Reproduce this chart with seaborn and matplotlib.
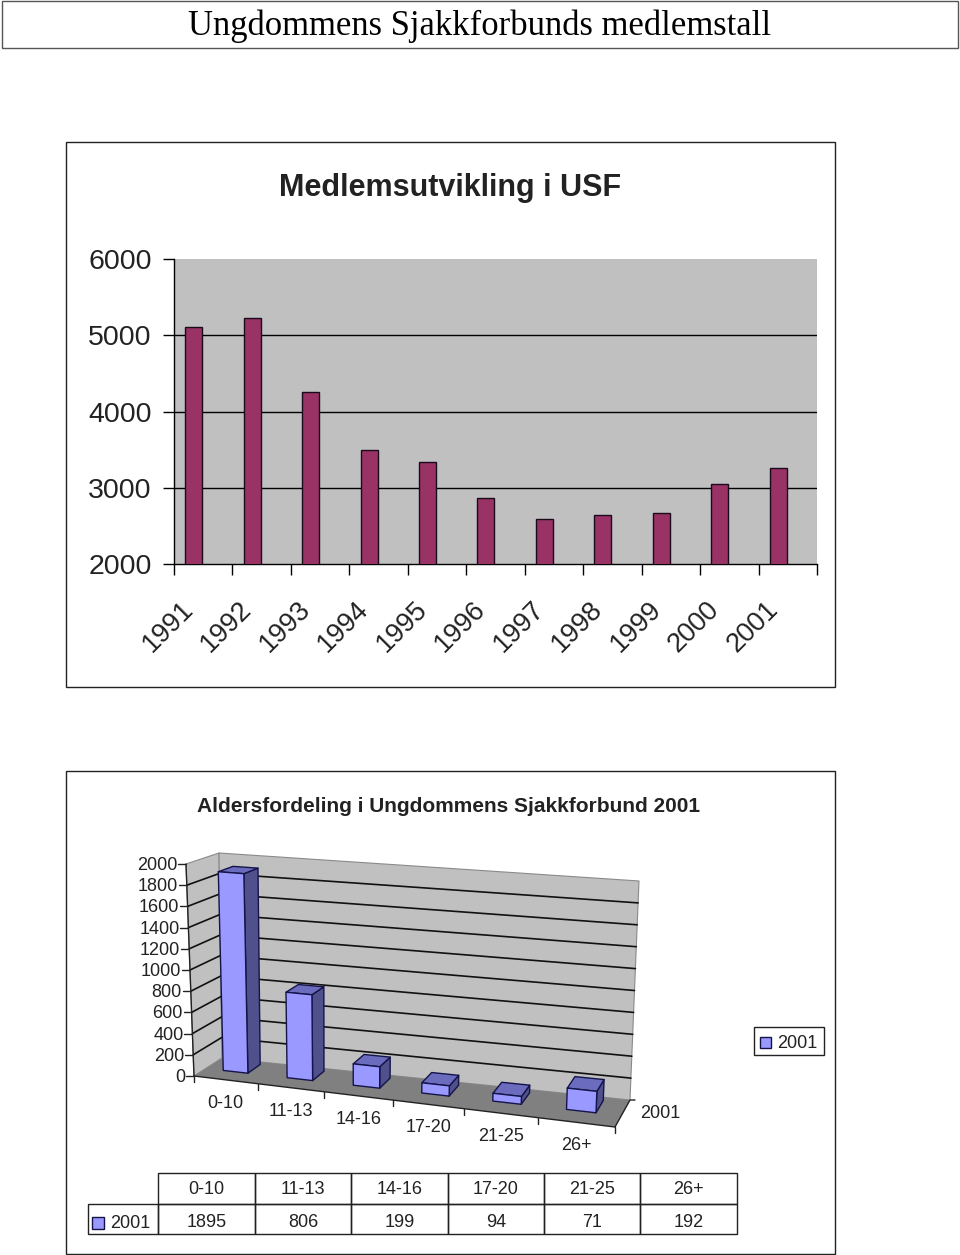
import numpy as np
import pandas as pd
import matplotlib
matplotlib.use('Agg')
import matplotlib.pyplot as plt
from matplotlib.patches import Polygon, Rectangle
from matplotlib.transforms import ScaledTranslation
import seaborn as sns

# chart data
years = ['1991', '1992', '1993', '1994', '1995', '1996', '1997', '1998', '1999', '2000', '2001']
members = [5108, 5226, 4256, 3495, 3338, 2866, 2590, 2643, 2669, 3049, 3259]
age_groups = ['0-10', '11-13', '14-16', '17-20', '21-25', '26+']
age_counts = [1895, 806, 199, 94, 71, 192]
series_name = '2001'
page_title = 'Ungdommens Sjakkforbunds medlemstall'
title_top = 'Medlemsutvikling i USF'
title_bottom = 'Aldersfordeling i Ungdommens Sjakkforbund 2001'

sns.set_style('white')
plt.rcParams['font.family'] = ['Liberation Sans', 'DejaVu Sans']

W, H = 960, 1255
fig = plt.figure(figsize=(W / 100, H / 100), dpi=100)

# page layer, in pixels
page = fig.add_axes([0, 0, 1, 1])
page.set_xlim(0, W)
page.set_ylim(H, 0)
page.axis('off')

page.add_patch(Rectangle((1.5, 0.5), 956, 47.5, fill=False, ec='#555555', lw=1.0))
page.text(480, 26, page_title, family='Liberation Serif', fontsize=24.9, ha='center', va='center', color='black')
page.add_patch(Rectangle((66, 142), 769, 545, fill=False, ec='#222222', lw=1.0))
page.add_patch(Rectangle((66, 771), 769, 483, fill=False, ec='#222222', lw=1.0))
page.text(450, 188, title_top, fontsize=22, fontweight='bold', ha='center', va='center', color='#222222')
page.text(449, 806, title_bottom, fontsize=15, fontweight='bold', ha='center', va='center', color='#222222')

# top chart, bars sit left of the middle of each tick interval
bar_shift = 0.163
ax = fig.add_axes([174 / W, 1 - 564 / H, (817 - 174) / W, (564 - 259) / H])
ax.set_zorder(2)
df = pd.DataFrame({'year': years, 'members': members})
sns.barplot(data=df, x='year', y='members', color='#993366', saturation=1, width=0.29,
            edgecolor='#1a0a1a', linewidth=1.0, ax=ax, zorder=3)
ax.set_facecolor('#C0C0C0')
ax.set_xlim(-0.5 + bar_shift, len(years) - 0.5 + bar_shift)
ax.set_ylim(2000, 6000)
ax.set_xlabel('')
ax.set_ylabel('')
ax.set_yticks([2000, 3000, 4000, 5000, 6000])
ax.tick_params(axis='y', length=8, width=1, pad=8, labelsize=20.5, color='black', labelcolor='#222222', left=True)
ax.set_xticks(np.arange(len(years) + 1) - 0.5 + bar_shift)
ax.set_xticklabels([])
ax.tick_params(axis='x', which='major', length=8, width=1, color='black', bottom=True)
ax.set_xticks(np.arange(len(years)), minor=True)
ax.set_xticklabels(years, minor=True, rotation=45, ha='right', va='center', rotation_mode='anchor',
                   fontsize=19.5, color='#222222')
ax.tick_params(axis='x', which='minor', length=0, pad=30, bottom=True)
nudge = ScaledTranslation(-3 / 72, 0, fig.dpi_scale_trans)
for lab in ax.get_xticklabels(minor=True):
    lab.set_transform(lab.get_transform() + nudge)
for val in [3000, 4000, 5000]:
    ax.axhline(val, color='black', lw=1.0, zorder=1)
for side in ['top', 'right']:
    ax.spines[side].set_visible(False)
for side in ['left', 'bottom']:
    ax.spines[side].set_color('black')
    ax.spines[side].set_linewidth(1.0)

# bottom chart, a 3D look: corners of the box in pixels (c across, d depth, v value)
front_low_l, front_low_r = np.array([194., 1076.]), np.array([615., 1127.])
back_low_l, back_low_r = np.array([222., 1058.]), np.array([630., 1100.])
front_top_l, front_top_r = np.array([186., 864.]), np.array([626., 899.])
back_top_l, back_top_r = np.array([219., 853.]), np.array([639., 881.])
v_max = 2000
n_cat = len(age_groups)


def project(c, d, v):
    s = c / n_cat
    t = s / (1 + 0.114 * (1 - s))
    low = (1 - d) * ((1 - t) * front_low_l + t * front_low_r) + d * ((1 - t) * back_low_l + t * back_low_r)
    top = (1 - d) * ((1 - t) * front_top_l + t * front_top_r) + d * ((1 - t) * back_top_l + t * back_top_r)
    return low + (top - low) * v / v_max


def face(points, color, z, ec='none', lw=0.0):
    page.add_patch(Polygon([project(*p) for p in points], closed=True, fc=color, ec=ec, lw=lw,
                           zorder=z, joinstyle='round'))


wall_edge = '#8a8a8a'
face([(0, 0, 0), (0, 1, 0), (0, 1, v_max), (0, 0, v_max)], '#C0C0C0', 2, wall_edge, 0.8)
face([(0, 1, 0), (n_cat, 1, 0), (n_cat, 1, v_max), (0, 1, v_max)], '#C0C0C0', 2, wall_edge, 0.8)
face([(0, 0, 0), (n_cat, 0, 0), (n_cat, 1, 0), (0, 1, 0)], '#808080', 2.5)

# grid on both walls
for val in range(200, v_max, 200):
    pts = np.array([project(0, 0, val), project(0, 1, val), project(n_cat, 1, val)])
    page.plot(pts[:, 0], pts[:, 1], color='#111111', lw=1.2, zorder=3)

# value axis
pts = np.array([project(0, 0, 0), project(0, 0, v_max)])
page.plot(pts[:, 0], pts[:, 1], color='#222222', lw=1.0, zorder=4)
for val in range(0, v_max + 1, 200):
    x, y = project(0, 0, val)
    page.plot([x - 8, x], [y, y], color='#222222', lw=1.0, zorder=4)
    page.text(x - 9, y + 1.5, str(val), fontsize=13, ha='right', va='center', color='#222222')

# category axis
pts = np.array([project(0, 0, 0), project(n_cat, 0, 0)])
page.plot(pts[:, 0], pts[:, 1], color='#222222', lw=1.0, zorder=4)
for i in range(n_cat + 1):
    x, y = project(i, 0, 0)
    page.plot([x, x], [y, y + 6], color='#222222', lw=1.0, zorder=4)
for i, label in enumerate(age_groups):
    x, y = project(i + 0.5, 0, 0)
    page.text(x, y + 23.5, label, fontsize=13, ha='center', va='center', color='#222222')

# depth axis
x0, y0 = project(n_cat, 0, 0)
x1, y1 = project(n_cat, 1, 0)
page.plot([x0, x1, x1 + 5], [y0, y1, y1], color='#222222', lw=1.0, zorder=4)
page.text((x0 + x1) / 2 + 38, (y0 + y1) / 2 - 0.5, series_name, fontsize=13, ha='center', va='center', color='#222222')

# bars
bar_c0, bar_c1 = 0.28, 0.67
bar_d0, bar_d1 = 0.42, 0.88
outline = '#14144a'
for i, val in enumerate(age_counts):
    c0, c1 = i + bar_c0, i + bar_c1
    z = 5 + i * 0.1
    face([(c1, bar_d0, 0), (c1, bar_d1, 0), (c1, bar_d1, val), (c1, bar_d0, val)], '#50508C', z, outline, 1.0)
    face([(c0, bar_d0, val), (c1, bar_d0, val), (c1, bar_d1, val), (c0, bar_d1, val)], '#6C6CBE', z, outline, 1.0)
    face([(c0, bar_d0, 0), (c1, bar_d0, 0), (c1, bar_d0, val), (c0, bar_d0, val)], '#9999FF', z, outline, 1.0)

# legend box
page.add_patch(Rectangle((754, 1027), 70, 28, fc='white', ec='#222222', lw=1.0))
page.add_patch(Rectangle((760, 1037), 11, 11, fc='#9999FF', ec=outline, lw=1.0))
page.text(777, 1043.5, series_name, fontsize=13, ha='left', va='center', color='#222222')

# data table under the chart
col_edges = [158, 255, 351, 448, 544, 640, 737]
row_top, row_mid, row_low = 1173, 1204, 1234
for i, label in enumerate(age_groups):
    x0, x1 = col_edges[i], col_edges[i + 1]
    page.add_patch(Rectangle((x0, row_top), x1 - x0, row_mid - row_top, fill=False, ec='#222222', lw=1.0))
    page.add_patch(Rectangle((x0, row_mid), x1 - x0, row_low - row_mid, fill=False, ec='#222222', lw=1.0))
    page.text((x0 + x1) / 2, (row_top + row_mid) / 2 + 1.5, label, fontsize=13, ha='center', va='center', color='#222222')
    page.text((x0 + x1) / 2, (row_mid + row_low) / 2 + 3.5, str(age_counts[i]), fontsize=13, ha='center', va='center', color='#222222')
page.add_patch(Rectangle((88, row_mid), 70, row_low - row_mid, fill=False, ec='#222222', lw=1.0))
page.add_patch(Rectangle((92, 1217), 12, 12, fc='#9999FF', ec=outline, lw=1.0))
page.text(110, 1224, series_name, fontsize=13, ha='left', va='center', color='#222222')

fig.savefig('out.png', dpi=100)
